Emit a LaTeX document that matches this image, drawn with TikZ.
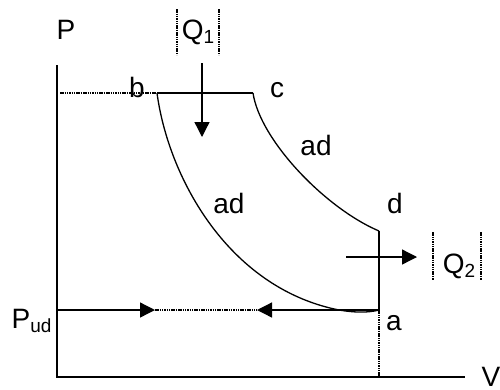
\documentclass[tikz,border=0pt]{standalone}
\usepackage{fontspec}
\setmainfont{Liberation Sans}
\usetikzlibrary{arrows.meta}
\newcommand\lowsub[1]{\raisebox{-4pt}{\fontsize{19}{19}\selectfont #1}}
\begin{document}
\begin{tikzpicture}[x=1pt,y=-1pt, line width=1.3pt,
  lbl/.style={anchor=base, inner sep=0pt, font=\fontsize{28}{30}\selectfont},
  dotln/.style={line width=1.2pt, dash pattern=on 1.5pt off 0.8pt},
  tri/.style={-{Triangle[length=15pt,width=15pt]}}]
\useasboundingbox (0,0) rectangle (500,389);
% key points
\coordinate (O) at (57,377);
\coordinate (Ptop) at (57,65);
\coordinate (Vend) at (465,377);
\coordinate (lb) at (60,93);
\coordinate (b) at (157,93);
\coordinate (c) at (253,93);
\coordinate (d) at (379,231);
\coordinate (a) at (379,310);
\coordinate (aO) at (379,377);
\coordinate (pud) at (57,310);
\coordinate (m1) at (155,310);
\coordinate (m2) at (257,310);
\coordinate (q1s) at (202,63);
\coordinate (q1e) at (202,137);
\coordinate (q2s) at (346,257);
\coordinate (q2e) at (417,257);
% axes
\draw (Ptop) -- (O) -- (Vend);
% top isobar
\draw[dotln] (lb) -- (b);
\draw (b) -- (c);
% adiabats
\draw (c) .. controls (260,140) and (325,208) .. (d);
\draw (b) .. controls (168,175) and (225,282) .. (330,308)
          .. controls (350,313) and (368,313) .. (a);
% isochore
\draw (d) -- (a);
\draw[dotln] (a) -- (aO);
% lower line
\draw[tri] (pud) -- (m1);
\draw[dotln] (m1) -- (m2);
\draw[tri] (a) -- (m2);
% heat arrows
\draw[tri] (q1s) -- (q1e);
\draw[tri] (q2s) -- (q2e);
% |Q| bars
\draw[dotln] (177,9) -- (177,55);
\draw[dotln] (219,9) -- (219,55);
\draw[dotln] (433,232) -- (433,280);
\draw[dotln] (481,232) -- (481,280);
% labels
\node[lbl] (Plbl) at (66,39) {P};
\node[lbl] (Q1lbl) at (198,39) {Q\lowsub{1}};
\node[lbl] (blbl) at (137,97) {b};
\node[lbl] (clbl) at (277,97) {c};
\node[lbl] (ad1) at (316,155) {ad};
\node[lbl] (ad2) at (229,213) {ad};
\node[lbl] (dlbl) at (395,213) {d};
\node[lbl] (Q2lbl) at (459,273) {Q\lowsub{2}};
\node[lbl, anchor=base west] (Pud) at (11,328) {P\lowsub{ud}};
\node[lbl] (albl) at (394,330) {a};
\node[lbl] (Vlbl) at (491,386) {V};
\end{tikzpicture}
\end{document}
